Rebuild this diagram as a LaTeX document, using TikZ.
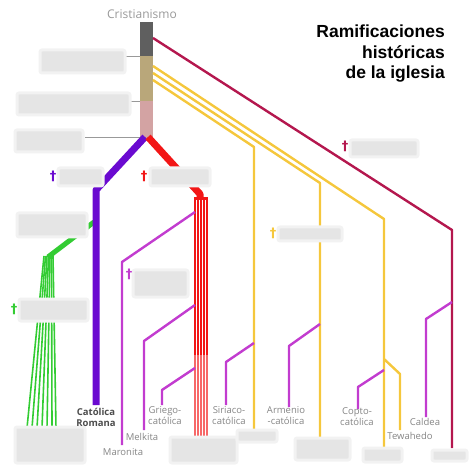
\documentclass[tikz,border=0pt]{standalone}
\usepackage{fontspec}
\setmainfont{Open Sans}
\newfontfamily\titulofont{Liberation Sans}
\newfontfamily\cruzfont{DejaVu Sans}
\usepackage{xcolor}
\definecolor{tronco}{HTML}{5F5F5F}
\definecolor{arena}{HTML}{B9A77A}
\definecolor{rosa}{HTML}{D3A3A3}
\definecolor{morado}{HTML}{6A0AD0}
\definecolor{rojo}{HTML}{F21616}
\definecolor{verde}{HTML}{33CC33}
\definecolor{fucsia}{HTML}{C23CCF}
\definecolor{amarillo}{HTML}{F5C73C}
\definecolor{granate}{HTML}{B4174E}
\definecolor{gristexto}{HTML}{858585}

\begin{document}
\begin{tikzpicture}[x=1pt,y=-1pt,line join=round,
        rama/.style={line width=2.4pt},
        gruesa/.style={line width=7pt},
        hueco/.style={fill=black!10,draw=black!5,line width=3pt,rounded corners=2pt},
        etiqueta/.style={text=gristexto,font=\fontsize{9.5}{11}\selectfont,align=center,inner sep=0pt},
        cruz/.style={font=\cruzfont\bfseries\fontsize{13}{13}\selectfont,inner sep=0pt}]
        \useasboundingbox (0,0) rectangle (474,473);
        % tronco comun
        \fill [tronco] (140,22) rectangle (153,56);
        \fill [arena] (140,56) rectangle (153,101);
        \fill [rosa] (140,101) rectangle (153,138);
        \draw [black!40] (126,56) -- (140,56) (125,101) -- (140,101) (85,137) -- (140,137);
        \node [text=black!40,font=\fontsize{12}{12}\selectfont] (cristianismo) at (142,14) {Cristianismo};
        % titulo
        \node [anchor=north east,align=right,inner sep=0pt,
            font=\titulofont\bfseries\fontsize{17.5}{20.5}\selectfont] (titulo) at (445,25)
            {Ramificaciones\\históricas\\de la iglesia};
        % Iglesia del Oriente
        \coordinate (o0) at (153,38); \coordinate (o1) at (452,230); \coordinate (o2) at (452,448);
        \draw [rama,granate] (o0) -- (o1) -- (o2);
        \coordinate (cal0) at (452,302); \coordinate (cal1) at (426,319); \coordinate (cal2) at (426,417);
        \draw [rama,fucsia] (cal0) -- (cal1) -- (cal2);
        % ortodoxas orientales
        \coordinate (a0) at (153,66); \coordinate (a1) at (384,219); \coordinate (a2) at (384,447);
        \coordinate (b0) at (153,73); \coordinate (b1) at (320,183); \coordinate (b2) at (320,438);
        \coordinate (c0) at (153,80); \coordinate (c1) at (254,147); \coordinate (c2) at (254,430);
        \draw [rama,amarillo] (a0) -- (a1) -- (a2);
        \draw [rama,amarillo] (b0) -- (b1) -- (b2);
        \draw [rama,amarillo] (c0) -- (c1) -- (c2);
        \coordinate (t0) at (384,359); \coordinate (t1) at (400,374); \coordinate (t2) at (400,430);
        \draw [rama,amarillo] (t0) -- (t1) -- (t2);
        \coordinate (co0) at (384,370); \coordinate (co1) at (358,387); \coordinate (co2) at (358,409);
        \draw [rama,fucsia] (co0) -- (co1) -- (co2);
        \coordinate (ar0) at (320,324); \coordinate (ar1) at (289,346); \coordinate (ar2) at (289,407);
        \draw [rama,fucsia] (ar0) -- (ar1) -- (ar2);
        \coordinate (si0) at (254,343); \coordinate (si1) at (226,362); \coordinate (si2) at (226,405);
        \draw [rama,fucsia] (si0) -- (si1) -- (si2);
        % protestantes
        \coordinate (v0) at (94,222); \coordinate (v1) at (48,257);
        \draw [verde,line width=5pt] (v0) -- (v1);
        \foreach \a/\b in {44/27,45.5/32,47/37,48.5/42,50/47,51.5/52,53/56}
            \draw [verde,line width=1.6pt] (\a,256) -- (\b,428);
        % catolica romana
        \coordinate (r0) at (145,137); \coordinate (r1) at (96,190); \coordinate (r2) at (96,405);
        \draw [gruesa,morado] (r0) -- (r1) -- (r2);
        % ortodoxa
        \coordinate (g0) at (148,137); \coordinate (g1) at (200,194); \coordinate (g2) at (200,200);
        \draw [gruesa,rojo] (g0) -- (g1) -- (g2);
        \fill [rojo] (193.5,197) rectangle (207.5,355);
        \fill [rojo!65] (193.5,355) rectangle (207.5,437);
        \foreach \x in {196.5,199.5,202.5,205} \draw [white,line width=0.7pt] (\x,200) -- (\x,437);
        \coordinate (m0) at (195,212); \coordinate (m1) at (122,262); \coordinate (m2) at (122,445);
        \draw [rama,fucsia] (m0) -- (m1) -- (m2);
        \coordinate (me0) at (195,305); \coordinate (me1) at (144,341); \coordinate (me2) at (144,430);
        \draw [rama,fucsia] (me0) -- (me1) -- (me2);
        \coordinate (gr0) at (195,368); \coordinate (gr1) at (162,390); \coordinate (gr2) at (162,405);
        \draw [rama,fucsia] (gr0) -- (gr1) -- (gr2);
        % huecos
        \foreach \xa/\ya/\xb/\yb in {40/50/125/73,17/93/130/115,15/130/83/152,17/213/87/237,
            58/168/103/186,150/168/210/186,350/140/418/157,278/227/342/241,
            133/270/188/297,19/299/88/321,15/427/85/463,170/437/237/463,
            237/430/277/442,295/438/350/460,363/448/402/462,432/450/467/461}
            \filldraw [hueco] (\xa,\ya) rectangle (\xb,\yb);
        % cruces
        \node [cruz,text=morado] (cruzr) at (53,176) {†};
        \node [cruz,text=rojo] (cruzg) at (144,176) {†};
        \node [cruz,text=granate] (cruzo) at (345,146) {†};
        \node [cruz,text=amarillo] (cruza) at (273,233) {†};
        \node [cruz,text=fucsia] (cruzm) at (129,274) {†};
        \node [cruz,text=verde] (cruzv) at (14,309) {†};
        % etiquetas
        \node [etiqueta,text=black!70,font=\bfseries\fontsize{9.5}{11}\selectfont] (romana) at (96,417) {Católica\\Romana};
        \node [etiqueta] (maronita) at (123,452) {Maronita};
        \node [etiqueta] (melkita) at (142,437) {Melkita};
        \node [etiqueta] (griego) at (165,416) {Griego-\\católica};
        \node [etiqueta] (siriaco) at (229,416) {Siriaco-\\católica};
        \node [etiqueta] (armenio) at (286,416) {Armenio\\-católica};
        \node [etiqueta] (copto) at (357,417) {Copto-\\católica};
        \node [etiqueta] (tewahedo) at (410,436) {Tewahedo};
        \node [etiqueta] (caldea) at (425,422) {Caldea};
\end{tikzpicture}
\end{document}
